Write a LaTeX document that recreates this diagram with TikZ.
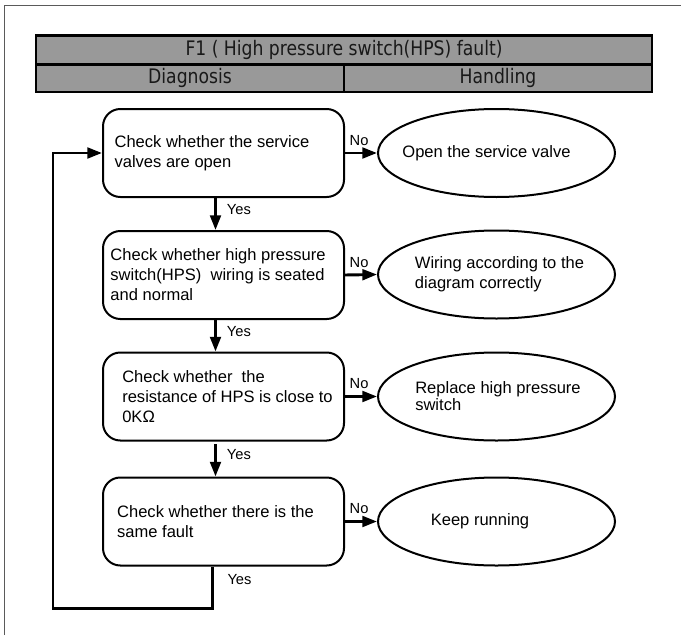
\documentclass[tikz,border=0pt]{standalone}
\usepackage{fontspec}
\setmainfont{Liberation Sans}
\newfontfamily\hdrfont[FakeStretch=0.86]{DejaVu Sans}
\usetikzlibrary{shapes.geometric,arrows.meta}
\definecolor{hdrgray}{RGB}{153,153,153}
\definecolor{framegray}{RGB}{90,90,90}
\begin{document}
\begin{tikzpicture}[x=0.75pt,y=-0.75pt,
  hdr/.style={draw=black, line width=1.7pt, fill=hdrgray, inner sep=0pt,
    font=\hdrfont\fontsize{15}{18}\selectfont, text=black!90},
  chk/.style={draw=black, line width=1.5pt, rounded corners=13pt,
    minimum width=180.75pt, minimum height=66pt, inner sep=0pt, align=left,
    font=\fontsize{12.4}{15}\selectfont},
  act/.style={ellipse, draw=black, line width=1.5pt, minimum width=177.75pt,
    minimum height=66pt, inner sep=0pt, align=left,
    font=\fontsize{12.4}{15}\selectfont},
  arr/.style={line width=2.2pt, -{Triangle[length=11pt,width=8pt]}},
  lbl/.style={font=\fontsize{11}{13}\selectfont, inner sep=1pt}
]
\useasboundingbox (0,0) rectangle (681,635);
% outer frame (only left and top edges visible)
\draw[framegray, line width=1pt] (4.7,635) -- (4.7,5.5) -- (681,5.5);

% header
\node[hdr, minimum width=462pt, minimum height=21.75pt] (title) at (344,50)
  {F1 ( High pressure switch(HPS) fault)};
\node[hdr, minimum width=231pt, minimum height=20.6pt] (diag) at (190,78.25) {Diagnosis};
\node[hdr, minimum width=231pt, minimum height=20.6pt] (hand) at (498,78.25) {Handling};

% check boxes
\node[chk] (b1) at (223.5,153) {Check whether the service\kern17.25pt\\valves are open};
\node[chk] (b2) at (223.5,275) {Check whether high pressure\kern8.25pt\\switch(HPS)\ \ wiring is seated\\and normal};
\node[chk] (b3) at (223.5,396.5) {Check whether\ \ the\\resistance of HPS is close to\kern-6pt\\0KΩ};
\node[chk] (b4) at (223.5,521.5) {Check whether there is the\kern12pt\\same fault};

% actions
\node[act] (e1) at (496.5,153) {\kern-15pt Open the service valve};
\node[act] (e2) at (496.5,274.5) {Wiring according to the\kern-4.5pt\\diagram correctly};
\node[act, font=\fontsize{12.4}{12.75}\selectfont] (e3) at (496.5,396.5) {Replace high pressure\kern-2.25pt\\switch};
\node[act] (e4) at (496.5,521.5) {\kern-24.75pt Keep running};

% No arrows
\draw[arr] (b1.east) -- node[lbl, above=3.5pt, pos=0.44] (no1) {No} (e1.west);
\draw[arr] (b2.east) -- node[lbl, above=3.5pt, pos=0.44] (no2) {No} (e2.west);
\draw[arr] (b3.east) -- node[lbl, above=3.5pt, pos=0.44] (no3) {No} (e3.west);
\draw[arr] (b4.east) -- node[lbl, above=3.5pt, pos=0.44] (no4) {No} (e4.west);

% Yes arrows
\draw[arr] ([xshift=-6pt]b1.south) -- node[lbl, right=6.5pt, pos=0.36] (yes1) {Yes} ([xshift=-6pt]b2.north);
\draw[arr] ([xshift=-6pt]b2.south) -- node[lbl, right=6.5pt, pos=0.38] (yes2) {Yes} ([xshift=-6pt]b3.north);
\draw[arr, shorten <=2pt] ([xshift=-6pt]b3.south) -- node[lbl, right=6.5pt, pos=0.38] (yes3) {Yes} ([xshift=-6pt]b4.north);

% loop back
\coordinate (lp) at (53,608.5);
\draw[arr] ([xshift=-8.6pt]b4.south) |- node[lbl, right=9.5pt, pos=0.16] (yes4) {Yes} (lp) |- (b1.west);
\end{tikzpicture}
\end{document}
